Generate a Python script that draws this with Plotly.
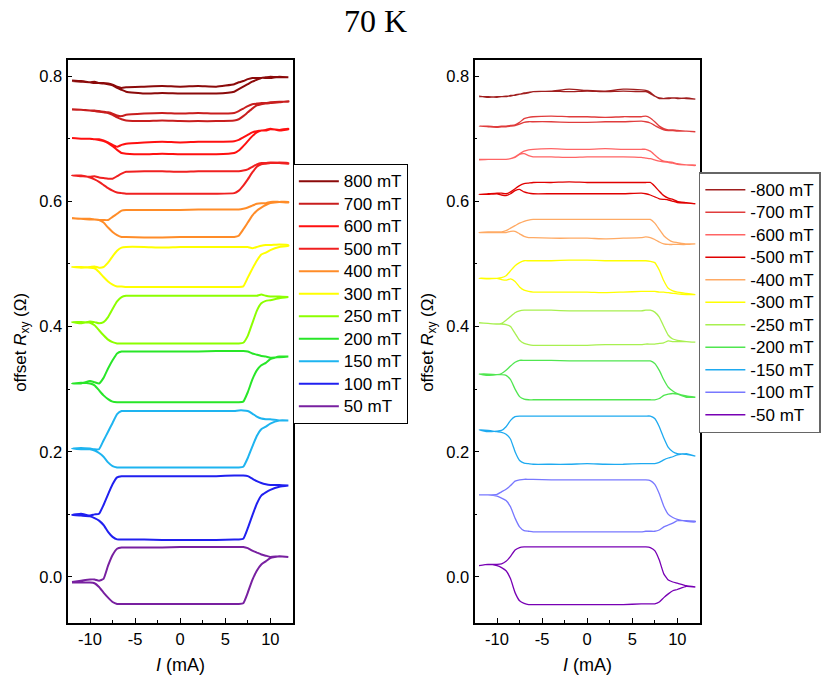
import plotly.graph_objects as go

# ---------------- data ----------------
I_mA = [-12, -11, -10, -9.5, -9, -8.5, -8, -7.5, -7, -6.5, -6, -4, -2, 0, 2, 4, 6,
        6.5, 7, 7.5, 8, 8.5, 9, 9.5, 10, 11, 12]

fields_pos = ["800 mT", "700 mT", "600 mT", "500 mT", "400 mT", "300 mT",
              "250 mT", "200 mT", "150 mT", "100 mT", "50 mT"]
fields_neg = ["-800 mT", "-700 mT", "-600 mT", "-500 mT", "-400 mT", "-300 mT",
              "-250 mT", "-200 mT", "-150 mT", "-100 mT", "-50 mT"]

colors_pos = ["#8b0a0a", "#c81e1e", "#ff1010", "#f02020", "#ff8c28", "#ffff00",
              "#8cff00", "#28e628", "#1eb4f0", "#2020f0", "#7820a0"]
colors_neg = ["#a01e1e", "#e03c3c", "#ff6464", "#e00000", "#ffaa64", "#ffff00",
              "#a8f050", "#50e650", "#1eaaf0", "#7878ff", "#7800b4"]

# positive fields (left panel): upper / lower branches
up_800 = [0.792, 0.791, 0.790, 0.791, 0.789, 0.789, 0.788, 0.786, 0.783, 0.781, 0.782, 0.783, 0.784, 0.783, 0.784, 0.783, 0.787, 0.790, 0.792, 0.795, 0.797, 0.797, 0.797, 0.798, 0.799, 0.798, 0.798]
lo_800 = [0.793, 0.792, 0.790, 0.789, 0.789, 0.788, 0.787, 0.785, 0.781, 0.778, 0.775, 0.772, 0.773, 0.772, 0.772, 0.772, 0.775, 0.779, 0.783, 0.787, 0.791, 0.794, 0.797, 0.797, 0.797, 0.799, 0.798]
up_700 = [0.747, 0.746, 0.745, 0.745, 0.744, 0.743, 0.742, 0.740, 0.737, 0.736, 0.738, 0.740, 0.741, 0.740, 0.741, 0.740, 0.741, 0.744, 0.748, 0.752, 0.755, 0.756, 0.757, 0.757, 0.758, 0.759, 0.759]
lo_700 = [0.746, 0.746, 0.745, 0.744, 0.743, 0.742, 0.741, 0.738, 0.734, 0.731, 0.729, 0.728, 0.729, 0.728, 0.728, 0.728, 0.729, 0.731, 0.736, 0.742, 0.748, 0.753, 0.755, 0.756, 0.757, 0.758, 0.760]
up_600 = [0.701, 0.700, 0.700, 0.699, 0.699, 0.697, 0.694, 0.690, 0.687, 0.690, 0.692, 0.694, 0.695, 0.694, 0.695, 0.695, 0.696, 0.698, 0.702, 0.706, 0.710, 0.712, 0.713, 0.713, 0.715, 0.714, 0.716]
lo_600 = [0.701, 0.700, 0.700, 0.699, 0.698, 0.696, 0.693, 0.688, 0.682, 0.677, 0.676, 0.675, 0.676, 0.675, 0.675, 0.675, 0.677, 0.681, 0.688, 0.696, 0.704, 0.710, 0.713, 0.714, 0.716, 0.713, 0.715]
up_500 = [0.641, 0.640, 0.639, 0.640, 0.638, 0.637, 0.636, 0.636, 0.640, 0.644, 0.647, 0.648, 0.648, 0.647, 0.648, 0.648, 0.648, 0.648, 0.649, 0.651, 0.655, 0.659, 0.661, 0.661, 0.662, 0.661, 0.660]
lo_500 = [0.641, 0.641, 0.638, 0.635, 0.631, 0.626, 0.621, 0.617, 0.614, 0.613, 0.612, 0.612, 0.612, 0.612, 0.612, 0.612, 0.613, 0.617, 0.625, 0.635, 0.646, 0.655, 0.659, 0.660, 0.661, 0.662, 0.661]
up_400 = [0.573, 0.572, 0.571, 0.571, 0.570, 0.570, 0.570, 0.575, 0.580, 0.585, 0.586, 0.586, 0.586, 0.586, 0.587, 0.587, 0.587, 0.587, 0.588, 0.590, 0.593, 0.596, 0.597, 0.597, 0.599, 0.599, 0.599]
lo_400 = [0.573, 0.572, 0.572, 0.571, 0.570, 0.566, 0.558, 0.551, 0.546, 0.543, 0.543, 0.542, 0.542, 0.543, 0.543, 0.543, 0.543, 0.545, 0.555, 0.566, 0.577, 0.585, 0.590, 0.594, 0.597, 0.599, 0.598]
up_300 = [0.495, 0.494, 0.495, 0.496, 0.494, 0.495, 0.502, 0.512, 0.521, 0.526, 0.527, 0.527, 0.526, 0.527, 0.527, 0.527, 0.527, 0.527, 0.527, 0.527, 0.525, 0.527, 0.529, 0.530, 0.530, 0.531, 0.530]
lo_300 = [0.495, 0.495, 0.494, 0.493, 0.487, 0.479, 0.472, 0.467, 0.464, 0.464, 0.463, 0.463, 0.463, 0.463, 0.463, 0.463, 0.463, 0.463, 0.464, 0.478, 0.492, 0.505, 0.515, 0.518, 0.522, 0.527, 0.529]
up_250 = [0.407, 0.405, 0.408, 0.407, 0.405, 0.407, 0.415, 0.428, 0.440, 0.447, 0.449, 0.449, 0.449, 0.449, 0.449, 0.449, 0.449, 0.449, 0.449, 0.449, 0.449, 0.449, 0.451, 0.449, 0.448, 0.448, 0.447]
lo_250 = [0.407, 0.407, 0.406, 0.402, 0.394, 0.386, 0.379, 0.375, 0.373, 0.373, 0.373, 0.373, 0.373, 0.373, 0.373, 0.373, 0.373, 0.373, 0.374, 0.385, 0.405, 0.425, 0.437, 0.441, 0.442, 0.445, 0.447]
up_200 = [0.309, 0.309, 0.313, 0.311, 0.309, 0.318, 0.333, 0.346, 0.357, 0.360, 0.360, 0.360, 0.360, 0.360, 0.360, 0.361, 0.361, 0.361, 0.361, 0.360, 0.357, 0.355, 0.353, 0.352, 0.350, 0.351, 0.352]
lo_200 = [0.309, 0.310, 0.309, 0.306, 0.298, 0.290, 0.284, 0.280, 0.279, 0.279, 0.279, 0.279, 0.279, 0.279, 0.279, 0.279, 0.279, 0.279, 0.280, 0.295, 0.315, 0.330, 0.338, 0.342, 0.348, 0.352, 0.352]
up_150 = [0.205, 0.206, 0.205, 0.204, 0.204, 0.218, 0.232, 0.246, 0.260, 0.265, 0.265, 0.265, 0.265, 0.265, 0.265, 0.265, 0.265, 0.266, 0.266, 0.265, 0.261, 0.256, 0.253, 0.252, 0.252, 0.250, 0.250]
lo_150 = [0.205, 0.204, 0.204, 0.202, 0.198, 0.192, 0.183, 0.177, 0.175, 0.175, 0.175, 0.175, 0.175, 0.175, 0.175, 0.175, 0.175, 0.175, 0.176, 0.190, 0.208, 0.225, 0.236, 0.240, 0.245, 0.250, 0.250]
up_100 = [0.099, 0.101, 0.098, 0.100, 0.101, 0.115, 0.132, 0.148, 0.159, 0.161, 0.161, 0.161, 0.161, 0.161, 0.161, 0.161, 0.162, 0.162, 0.162, 0.161, 0.157, 0.153, 0.150, 0.148, 0.147, 0.147, 0.146]
lo_100 = [0.099, 0.098, 0.097, 0.094, 0.090, 0.083, 0.072, 0.064, 0.060, 0.060, 0.060, 0.060, 0.059, 0.059, 0.059, 0.059, 0.060, 0.060, 0.061, 0.078, 0.098, 0.117, 0.130, 0.135, 0.139, 0.144, 0.146]
up_50 = [-0.008, -0.006, -0.004, -0.004, -0.006, -0.003, 0.018, 0.035, 0.045, 0.047, 0.047, 0.047, 0.047, 0.048, 0.048, 0.048, 0.048, 0.048, 0.048, 0.046, 0.042, 0.039, 0.036, 0.034, 0.032, 0.033, 0.032]
lo_50 = [-0.009, -0.009, -0.009, -0.010, -0.016, -0.025, -0.033, -0.040, -0.043, -0.043, -0.043, -0.043, -0.043, -0.043, -0.043, -0.043, -0.043, -0.043, -0.042, -0.025, -0.005, 0.010, 0.020, 0.025, 0.030, 0.033, 0.032]

# negative fields (right panel): upper / lower branches
up_m800 = [0.768, 0.766, 0.767, 0.767, 0.768, 0.768, 0.770, 0.771, 0.773, 0.774, 0.775, 0.776, 0.779, 0.777, 0.776, 0.779, 0.778, 0.777, 0.774, 0.768, 0.764, 0.764, 0.765, 0.765, 0.764, 0.765, 0.763]
lo_m800 = [0.767, 0.767, 0.766, 0.767, 0.767, 0.769, 0.769, 0.771, 0.772, 0.773, 0.775, 0.776, 0.775, 0.776, 0.775, 0.776, 0.775, 0.775, 0.772, 0.768, 0.765, 0.764, 0.764, 0.765, 0.765, 0.764, 0.763]
up_m700 = [0.720, 0.720, 0.719, 0.720, 0.720, 0.721, 0.722, 0.726, 0.732, 0.734, 0.735, 0.736, 0.735, 0.735, 0.734, 0.735, 0.735, 0.736, 0.733, 0.727, 0.720, 0.716, 0.714, 0.714, 0.713, 0.712, 0.711]
lo_m700 = [0.720, 0.719, 0.718, 0.719, 0.719, 0.720, 0.721, 0.723, 0.726, 0.727, 0.727, 0.727, 0.726, 0.726, 0.727, 0.727, 0.728, 0.727, 0.725, 0.721, 0.717, 0.714, 0.713, 0.713, 0.712, 0.712, 0.711]
up_m600 = [0.667, 0.667, 0.667, 0.667, 0.667, 0.668, 0.671, 0.676, 0.680, 0.682, 0.683, 0.684, 0.683, 0.683, 0.684, 0.683, 0.683, 0.683, 0.680, 0.674, 0.668, 0.664, 0.663, 0.662, 0.660, 0.658, 0.658]
lo_m600 = [0.666, 0.667, 0.667, 0.667, 0.667, 0.668, 0.670, 0.675, 0.676, 0.673, 0.671, 0.671, 0.670, 0.671, 0.671, 0.671, 0.670, 0.669, 0.668, 0.666, 0.664, 0.663, 0.662, 0.661, 0.659, 0.658, 0.657]
up_m500 = [0.611, 0.612, 0.613, 0.613, 0.612, 0.615, 0.620, 0.625, 0.628, 0.629, 0.630, 0.630, 0.631, 0.630, 0.630, 0.630, 0.630, 0.630, 0.630, 0.624, 0.616, 0.609, 0.605, 0.603, 0.600, 0.598, 0.596]
lo_m500 = [0.611, 0.611, 0.612, 0.610, 0.609, 0.612, 0.617, 0.619, 0.615, 0.613, 0.612, 0.612, 0.612, 0.612, 0.612, 0.612, 0.613, 0.612, 0.610, 0.607, 0.604, 0.603, 0.602, 0.600, 0.598, 0.597, 0.596]
up_m400 = [0.550, 0.551, 0.551, 0.551, 0.553, 0.557, 0.561, 0.565, 0.568, 0.570, 0.571, 0.571, 0.571, 0.571, 0.571, 0.571, 0.571, 0.571, 0.571, 0.565, 0.555, 0.545, 0.539, 0.535, 0.534, 0.532, 0.532]
lo_m400 = [0.550, 0.550, 0.550, 0.550, 0.550, 0.552, 0.552, 0.548, 0.544, 0.542, 0.542, 0.541, 0.541, 0.541, 0.540, 0.541, 0.542, 0.543, 0.542, 0.539, 0.535, 0.532, 0.531, 0.531, 0.531, 0.531, 0.532]
up_m300 = [0.477, 0.477, 0.477, 0.478, 0.481, 0.489, 0.497, 0.502, 0.505, 0.505, 0.505, 0.505, 0.506, 0.506, 0.505, 0.505, 0.505, 0.505, 0.504, 0.502, 0.490, 0.473, 0.461, 0.457, 0.455, 0.453, 0.451]
lo_m300 = [0.477, 0.476, 0.477, 0.475, 0.474, 0.476, 0.472, 0.463, 0.458, 0.456, 0.455, 0.455, 0.455, 0.455, 0.454, 0.455, 0.456, 0.456, 0.456, 0.456, 0.455, 0.455, 0.454, 0.453, 0.452, 0.451, 0.451]
up_m250 = [0.406, 0.405, 0.404, 0.405, 0.410, 0.416, 0.422, 0.425, 0.426, 0.426, 0.426, 0.426, 0.425, 0.425, 0.425, 0.425, 0.425, 0.426, 0.426, 0.423, 0.415, 0.400, 0.386, 0.380, 0.378, 0.376, 0.375]
lo_m250 = [0.406, 0.405, 0.404, 0.404, 0.403, 0.400, 0.389, 0.378, 0.373, 0.371, 0.370, 0.370, 0.370, 0.370, 0.371, 0.371, 0.371, 0.372, 0.372, 0.372, 0.373, 0.374, 0.377, 0.376, 0.376, 0.376, 0.375]
up_m200 = [0.324, 0.322, 0.323, 0.325, 0.330, 0.337, 0.343, 0.346, 0.346, 0.346, 0.346, 0.346, 0.345, 0.345, 0.345, 0.345, 0.345, 0.345, 0.345, 0.341, 0.330, 0.315, 0.303, 0.297, 0.293, 0.289, 0.287]
lo_m200 = [0.324, 0.324, 0.323, 0.323, 0.322, 0.315, 0.300, 0.288, 0.284, 0.283, 0.283, 0.283, 0.283, 0.283, 0.283, 0.283, 0.283, 0.283, 0.283, 0.283, 0.285, 0.290, 0.292, 0.293, 0.292, 0.287, 0.287]
up_m150 = [0.235, 0.232, 0.233, 0.234, 0.240, 0.250, 0.256, 0.257, 0.257, 0.257, 0.257, 0.257, 0.257, 0.257, 0.257, 0.257, 0.257, 0.257, 0.257, 0.253, 0.240, 0.222, 0.207, 0.200, 0.197, 0.196, 0.193]
lo_m150 = [0.235, 0.234, 0.232, 0.231, 0.228, 0.220, 0.200, 0.186, 0.182, 0.181, 0.180, 0.180, 0.180, 0.181, 0.180, 0.180, 0.181, 0.181, 0.181, 0.181, 0.183, 0.187, 0.190, 0.192, 0.195, 0.197, 0.193]
up_m100 = [0.131, 0.131, 0.132, 0.136, 0.140, 0.146, 0.153, 0.155, 0.156, 0.156, 0.156, 0.155, 0.155, 0.155, 0.155, 0.155, 0.155, 0.155, 0.154, 0.148, 0.133, 0.113, 0.100, 0.095, 0.092, 0.089, 0.088]
lo_m100 = [0.131, 0.131, 0.129, 0.126, 0.122, 0.112, 0.094, 0.080, 0.074, 0.073, 0.072, 0.072, 0.072, 0.072, 0.072, 0.072, 0.072, 0.073, 0.073, 0.073, 0.075, 0.080, 0.083, 0.086, 0.090, 0.090, 0.089]
up_m50 = [0.018, 0.020, 0.020, 0.021, 0.025, 0.033, 0.043, 0.047, 0.048, 0.048, 0.048, 0.048, 0.048, 0.048, 0.048, 0.048, 0.048, 0.048, 0.047, 0.042, 0.027, 0.005, -0.005, -0.008, -0.010, -0.014, -0.016]
lo_m50 = [0.018, 0.020, 0.018, 0.015, 0.010, -0.003, -0.025, -0.038, -0.042, -0.044, -0.044, -0.044, -0.044, -0.044, -0.044, -0.044, -0.043, -0.043, -0.043, -0.043, -0.040, -0.033, -0.027, -0.022, -0.020, -0.015, -0.016]

x_tickvals = [-10, -5, 0, 5, 10]
x_ticktext = ["-10", "-5", "0", "5", "10"]
y_tickvals = [0.0, 0.2, 0.4, 0.6, 0.8]
y_ticktext = ["0.0", "0.2", "0.4", "0.6", "0.8"]

branches_pos = [(up_800, lo_800), (up_700, lo_700), (up_600, lo_600), (up_500, lo_500),
                (up_400, lo_400), (up_300, lo_300), (up_250, lo_250), (up_200, lo_200),
                (up_150, lo_150), (up_100, lo_100), (up_50, lo_50)]
branches_neg = [(up_m800, lo_m800), (up_m700, lo_m700), (up_m600, lo_m600), (up_m500, lo_m500),
                (up_m400, lo_m400), (up_m300, lo_m300), (up_m250, lo_m250), (up_m200, lo_m200),
                (up_m150, lo_m150), (up_m100, lo_m100), (up_m50, lo_m50)]

# ---------------- figure ----------------
W, H = 821, 682
FONT = "Liberation Sans, Arial, sans-serif"

fig = go.Figure()

def loop(up, lo):
    return I_mA + I_mA[::-1], up + lo[::-1]

def legend_label(s):
    return "<span style='font-size:17px'>" + s + "</span>"

for name, col, (up, lo) in zip(fields_pos, colors_pos, branches_pos):
    xs, ys = loop(up, lo)
    fig.add_trace(go.Scatter(x=xs, y=ys, mode="lines", name=legend_label(name),
                             line=dict(color=col, width=2, shape="spline", smoothing=0.4),
                             xaxis="x", yaxis="y", legend="legend"))

for name, col, (up, lo) in zip(fields_neg, colors_neg, branches_neg):
    xs, ys = loop(up, lo)
    fig.add_trace(go.Scatter(x=xs, y=ys, mode="lines", name=legend_label(name),
                             line=dict(color=col, width=1.3, shape="spline", smoothing=0.4),
                             xaxis="x2", yaxis="y2", legend="legend2"))

def px_x(p):
    return p / W

def px_y(p):
    return 1 - p / H

ydom = [px_y(623), px_y(60)]
xdom1 = [px_x(68), px_x(295)]
xdom2 = [px_x(478), px_x(705)]

xax = dict(range=[-12.5, 12.5], tickvals=x_tickvals, ticktext=x_ticktext,
           ticks="inside", ticklen=5, tickwidth=1.2, tickcolor="black",
           minor=dict(dtick=2.5, tick0=0, ticks="inside", ticklen=3, tickwidth=1, tickcolor="black"),
           showline=True, linecolor="black", linewidth=1.8, mirror=True,
           showgrid=False, zeroline=False, tickfont=dict(family=FONT, size=16.5, color="black"))
yax = dict(range=[-0.0735, 0.8256], tickvals=y_tickvals, ticktext=y_ticktext,
           ticks="inside", ticklen=5, tickwidth=1.2, tickcolor="black",
           minor=dict(dtick=0.1, tick0=0, ticks="inside", ticklen=3, tickwidth=1, tickcolor="black"),
           showline=True, linecolor="black", linewidth=1.8, mirror=True,
           showgrid=False, zeroline=False, tickfont=dict(family=FONT, size=16.5, color="black"))

fig.update_layout(
    width=W, height=H, autosize=False,
    margin=dict(l=0, r=0, t=0, b=0),
    paper_bgcolor="white", plot_bgcolor="white",
    font=dict(family=FONT, size=16, color="black"),
    xaxis=dict(domain=xdom1, anchor="y", **xax),
    yaxis=dict(domain=ydom, anchor="x", **yax),
    xaxis2=dict(domain=xdom2, anchor="y2", **xax),
    yaxis2=dict(domain=ydom, anchor="x2", **yax),
    legend=dict(x=px_x(295), y=px_y(164), xanchor="left", yanchor="top",
                bgcolor="white", bordercolor="black", borderwidth=1,
                font=dict(family=FONT, size=15, color="black"),
                itemwidth=40, tracegroupgap=0),
    legend2=dict(x=px_x(704), y=px_y(172), xanchor="left", yanchor="top",
                 bgcolor="white", bordercolor="#666666", borderwidth=1.5,
                 font=dict(family=FONT, size=15, color="black"),
                 itemwidth=40, tracegroupgap=0),
    showlegend=True,
)

ann = [
    dict(text="70 K", x=px_x(378), y=px_y(21), xref="paper", yref="paper",
         showarrow=False, xanchor="center", yanchor="middle",
         font=dict(family="Liberation Serif, DejaVu Serif, serif", size=32, color="black")),
    dict(text="<i>I</i> (mA)", x=px_x(182), y=px_y(665), xref="paper", yref="paper",
         showarrow=False, xanchor="center", yanchor="middle", font=dict(size=18)),
    dict(text="<i>I</i> (mA)", x=px_x(592), y=px_y(665), xref="paper", yref="paper",
         showarrow=False, xanchor="center", yanchor="middle", font=dict(size=18)),
    dict(text="offset <i>R</i><sub>xy</sub> (Ω)", x=px_x(22), y=px_y(342), xref="paper", yref="paper",
         showarrow=False, xanchor="center", yanchor="middle", textangle=-90, font=dict(size=17)),
    dict(text="offset <i>R</i><sub>xy</sub> (Ω)", x=px_x(432), y=px_y(342), xref="paper", yref="paper",
         showarrow=False, xanchor="center", yanchor="middle", textangle=-90, font=dict(size=17)),
]
fig.update_layout(annotations=ann)

fig.write_html("out.html",
               config={"displayModeBar": False},
               post_script="document.body.style.margin='0px';document.body.style.overflow='hidden';")
